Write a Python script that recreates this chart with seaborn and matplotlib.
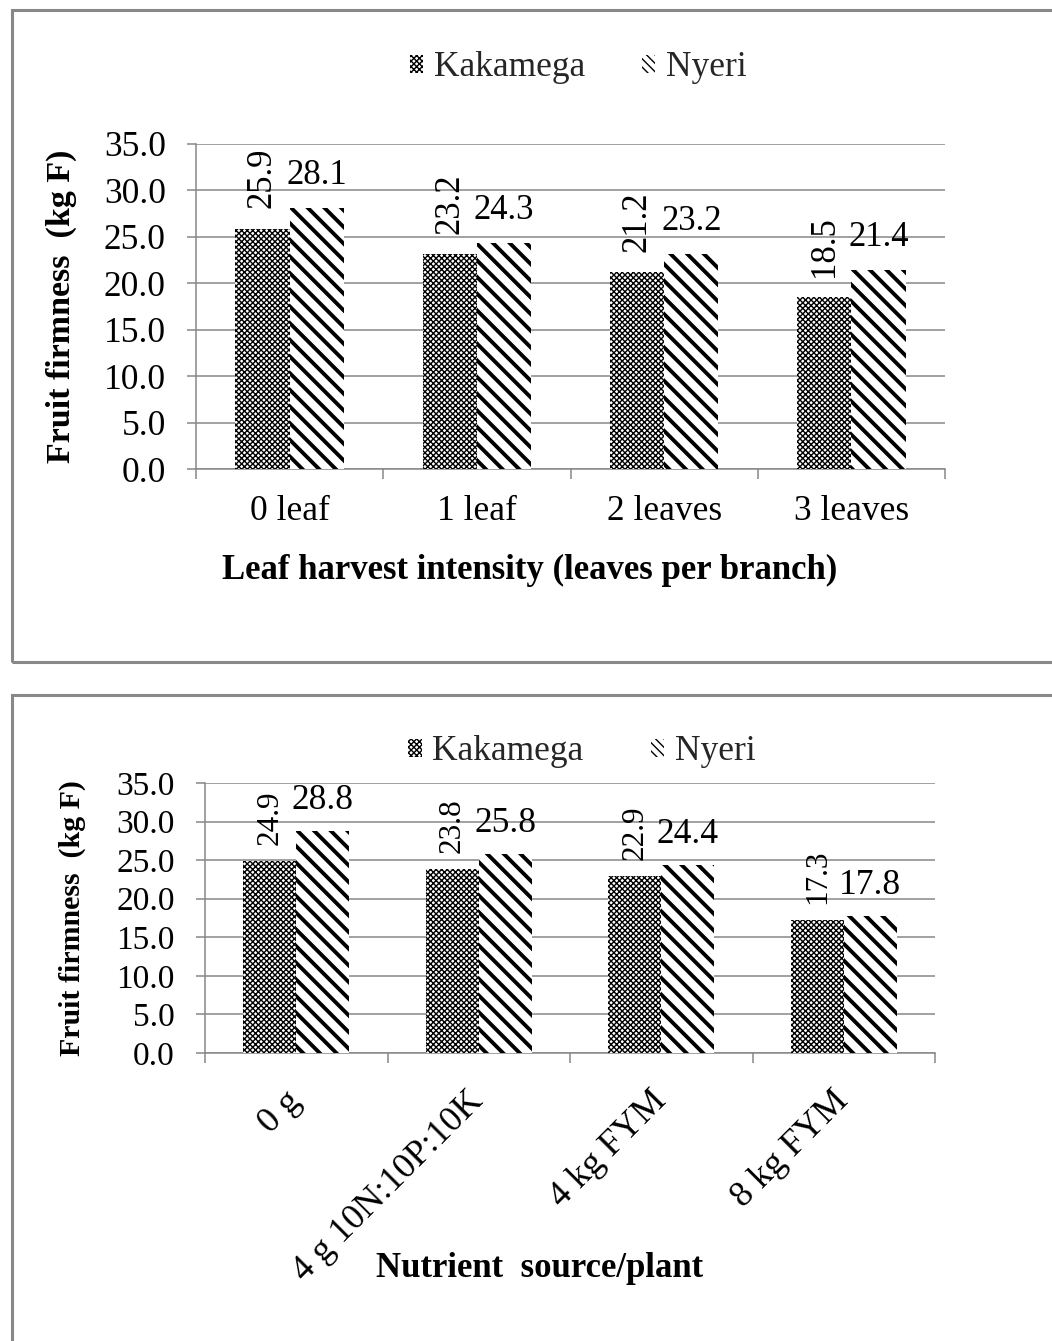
import matplotlib
matplotlib.use("Agg")
import matplotlib.pyplot as plt
import matplotlib.patches as mpatches
import seaborn as sns
import pandas as pd

# ---------------- data ----------------
sites = ["Kakamega", "Nyeri"]

leaf_categories = ["0 leaf", "1 leaf", "2 leaves", "3 leaves"]
leaf_kakamega = [25.9, 23.2, 21.2, 18.5]
leaf_nyeri = [28.1, 24.3, 23.2, 21.4]

nutr_categories = ["0 g", "4 g 10N:10P:10K", "4 kg FYM", "8 kg FYM"]
nutr_kakamega = [24.9, 23.8, 22.9, 17.3]
nutr_nyeri = [28.8, 25.8, 24.4, 17.8]

y_ticks = [0, 5, 10, 15, 20, 25, 30, 35]

# ---------------- style ----------------
sns.set_theme(style="white")
plt.rcParams["font.family"] = ["Liberation Serif", "DejaVu Serif"]
plt.rcParams["hatch.linewidth"] = 1.0

GRAY = "#888888"
HATCHES = {"Kakamega": "xxxxxx", "Nyeri": "\\\\"}
HATCH_LW = {"Kakamega": 1.0, "Nyeri": 2.8}
LEG_HATCHES = {"Kakamega": "xxxxxx", "Nyeri": "\\\\\\\\"}
LEG_HATCH_LW = {"Kakamega": 1.0, "Nyeri": 2.0}

W, H = 1052, 1341
fig = plt.figure(figsize=(W / 100, H / 100), dpi=100)

# panel borders
for (x0, y0, x1, y1) in [(12, 10, 1070, 662), (12, 695, 1070, 1360)]:
    rect = mpatches.Rectangle((x0 / W, 1 - y1 / H), (x1 - x0) / W, (y1 - y0) / H,
                              transform=fig.transFigure, fill=False, edgecolor=GRAY,
                              linewidth=2.2, clip_on=False)
    fig.patches.append(rect)


def make_df(cats, kak, nye):
    rows = []
    for c, v in zip(cats, kak):
        rows.append({"cat": c, "site": "Kakamega", "val": v})
    for c, v in zip(cats, nye):
        rows.append({"cat": c, "site": "Nyeri", "val": v})
    return pd.DataFrame(rows)


def draw_panel(ax, cats, kak, nye, ytick_fs, xtick_fs, rlab_fs, hlab_fs, xl_fs, yl_fs,
               xlabel, ylabel, rot_off, hor_off, rotate_xt, xt_pad, yl_pad, xl_coords):
    df = make_df(cats, kak, nye)
    sns.barplot(data=df, x="cat", y="val", hue="site", hue_order=sites, order=cats,
                palette=["white", "white"], width=0.58, gap=0, edgecolor="black",
                linewidth=0, ax=ax, legend=False, zorder=3)
    for site, cont in zip(sites, ax.containers):
        for bar in cont:
            bar.set_hatch(HATCHES[site])
            bar.set_edgecolor("black")
            bar.set_linewidth(0)
            if hasattr(bar, "set_hatch_linewidth"):
                bar.set_hatch_linewidth(HATCH_LW[site])
        vals = kak if site == "Kakamega" else nye
        for bar, v in zip(cont, vals):
            xc = bar.get_x() + bar.get_width() / 2
            if site == "Kakamega":
                ax.annotate(f"{v:.1f}", (xc, v), xytext=(0, rot_off), textcoords="offset pixels",
                            rotation=90, ha="center", va="bottom", fontsize=rlab_fs,
                            color="black", zorder=5)
            else:
                ax.annotate(f"{v:.1f}", (xc, v), xytext=(0, hor_off), textcoords="offset pixels",
                            ha="center", va="baseline", fontsize=hlab_fs, color="black", zorder=5)

    ax.set_ylim(0, 35)
    ax.set_xlim(-0.5, len(cats) - 0.5)
    ax.set_yticks(y_ticks)
    ax.set_yticklabels([f"{t:.1f}" for t in y_ticks], fontsize=ytick_fs, color="black")
    ax.yaxis.grid(True, color=GRAY, linewidth=1.1, zorder=0)
    ax.xaxis.grid(False)
    ax.set_axisbelow(True)
    for s in ["top", "right"]:
        ax.spines[s].set_visible(False)
    for s in ["left", "bottom"]:
        ax.spines[s].set_color(GRAY)
        ax.spines[s].set_linewidth(1.1)
    ax.tick_params(axis="y", which="major", direction="out", length=6.7, width=1.1, color=GRAY,
                   left=True, pad=15)
    ax.set_xticks(range(len(cats)))
    if rotate_xt:
        ax.set_xticklabels(cats, fontsize=xtick_fs, rotation=45, ha="right",
                           rotation_mode="anchor", va="center", color="black")
    else:
        ax.set_xticklabels(cats, fontsize=xtick_fs, color="black")
    ax.tick_params(axis="x", which="major", length=0, pad=xt_pad)
    ax.set_xticks([i - 0.5 for i in range(len(cats) + 1)], minor=True)
    ax.tick_params(axis="x", which="minor", direction="out", length=7, width=1.1, color=GRAY,
                   bottom=True)
    ax.set_xlabel(xlabel, fontsize=xl_fs, fontweight="bold", color="black")
    ax.xaxis.set_label_coords(*xl_coords)
    ax.set_ylabel(ylabel, fontsize=yl_fs, fontweight="bold", labelpad=yl_pad, color="black")


def legend_for(fs, xc, yc, colsp):
    handles = []
    for site in sites:
        p = mpatches.Patch(facecolor="white", edgecolor="black", hatch=LEG_HATCHES[site],
                           linewidth=0, label=site)
        if hasattr(p, "set_hatch_linewidth"):
            p.set_hatch_linewidth(LEG_HATCH_LW[site])
        handles.append(p)
    fig.legend(handles=handles, loc="center", bbox_to_anchor=(xc, yc), ncol=2, frameon=False,
               fontsize=fs, handlelength=0.38, handleheight=0.42, handletextpad=0.3,
               columnspacing=colsp, borderpad=0, borderaxespad=0)


# top panel: axes from x=196..945, y=144..469 px
ax1 = fig.add_axes([196 / W, 1 - 469 / H, (945 - 196) / W, (469 - 144) / H])
draw_panel(ax1, leaf_categories, leaf_kakamega, leaf_nyeri,
           ytick_fs=25.5, xtick_fs=25.5, rlab_fs=25, hlab_fs=25, xl_fs=25, yl_fs=24.5,
           xlabel="Leaf harvest intensity (leaves per branch)", ylabel="Fruit firmness  (kg F)",
           rot_off=20, hor_off=24, rotate_xt=False, xt_pad=19, yl_pad=19,
           xl_coords=((530 - 196) / (945 - 196), -(554 - 469) / (469 - 144)))
legend_for(25.5, 578 / W, 1 - 68 / H, 1.6)

# bottom panel: axes from x=205..935, y=783..1053 px
ax2 = fig.add_axes([205 / W, 1 - 1053 / H, (935 - 205) / W, (1053 - 783) / H])
draw_panel(ax2, nutr_categories, nutr_kakamega, nutr_nyeri,
           ytick_fs=24, xtick_fs=26, rlab_fs=22.5, hlab_fs=25.5, xl_fs=25, yl_fs=21.5,
           xlabel="Nutrient  source/plant", ylabel="Fruit firmness  (kg F)",
           rot_off=16, hor_off=22, rotate_xt=True, xt_pad=31, yl_pad=22,
           xl_coords=((540 - 205) / (935 - 205), -(1252 - 1053) / (1053 - 783)))
legend_for(25.5, 582 / W, 1 - 752 / H, 1.9)

fig.savefig("out.png", dpi=100)
